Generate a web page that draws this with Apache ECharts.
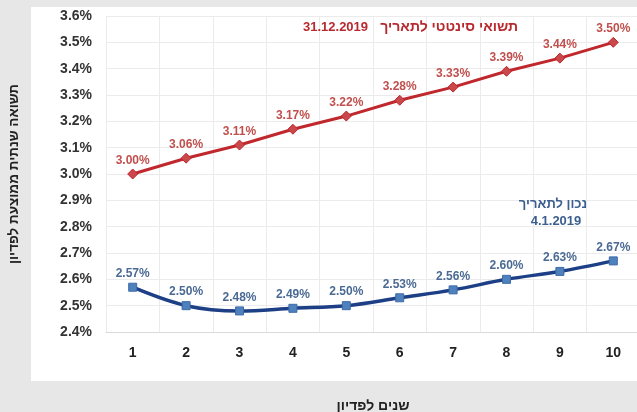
<!DOCTYPE html>
<html><head><meta charset="utf-8">
<script src="https://cdn.jsdelivr.net/npm/echarts@6/dist/echarts.min.js"></script>
<style>html,body{margin:0;padding:0;background:#e7e7e7;}#c{width:637px;height:412px;}</style>
</head><body><div id="c"></div>
<script>
var categories = ['1','2','3','4','5','6','7','8','9','10'];
var syntheticYield = [3.00,3.06,3.11,3.17,3.22,3.28,3.33,3.39,3.44,3.50];
var currentYield = [2.57,2.50,2.48,2.49,2.50,2.53,2.56,2.60,2.63,2.67];
var yMin = 2.4, yMax = 3.6, yStep = 0.1;
var redDate = '31.12.2019';
var redText = 'תשואי סינטטי לתאריך';
var blueLabel1 = 'נכון לתאריך';
var blueLabel2 = '4.1.2019';
var yTitle = 'תשואה שנתית ממוצעת לפדיון';
var xTitle = 'שנים לפדיון';

var chart = echarts.init(document.getElementById('c'));
var font = 'Liberation Sans, Arial, sans-serif';
chart.setOption({
  backgroundColor: '#e7e7e7',
  animation: false,
  textStyle: {fontFamily: font},
  graphic: [
    {type:'rect', z:-10, silent:true, shape:{x:31,y:7,width:606,height:374}, style:{fill:'#ffffff'}},
    {type:'text', z:10, x:303, y:27, style:{text: redDate, fill:'#b8292e', font:'bold 13px '+font, textAlign:'left', textVerticalAlign:'middle'}},
    {type:'text', z:10, x:518, y:27, style:{text: redText, fill:'#b8292e', font:'bold 14px '+font, textAlign:'right', textVerticalAlign:'middle'}},
    {type:'text', z:10, x:553, y:204, style:{text: blueLabel1, fill:'#3b5f8e', font:'bold 13px '+font, textAlign:'center', textVerticalAlign:'middle'}},
    {type:'text', z:10, x:556, y:221, style:{text: blueLabel2, fill:'#3b5f8e', font:'bold 13px '+font, textAlign:'center', textVerticalAlign:'middle'}}
  ],
  grid: {left:106, top:16, width:534, height:316, containLabel:false, outerBoundsMode:'none'},
  xAxis: {
    type:'category', data: categories, boundaryGap:true,
    name: xTitle, nameLocation:'middle', nameGap:67,
    nameTextStyle:{fontWeight:'bold', fontSize:14, color:'#222'},
    axisLine:{lineStyle:{color:'#d9d9d9'}},
    axisTick:{show:false},
    axisLabel:{fontWeight:'bold', fontSize:14, color:'#222', margin:14},
    splitLine:{show:true, lineStyle:{color:'#ebebeb'}}
  },
  yAxis: {
    type:'value', min:yMin, max:yMax, interval:yStep,
    name: yTitle, nameLocation:'middle', nameGap:85,
    nameTextStyle:{fontWeight:'bold', fontSize:13.5, color:'#222'},
    axisLine:{show:false}, axisTick:{show:false},
    axisLabel:{fontWeight:'bold', fontSize:14, color:'#333', margin:14,
      formatter:function(v){return v.toFixed(1)+'%';}},
    splitLine:{lineStyle:{color:'#ebebeb'}}
  },
  series: [
    {type:'line', data: syntheticYield, symbol:'diamond', symbolSize:10,
     lineStyle:{color:'#c0282d', width:3},
     itemStyle:{color:'#c9484b', borderColor:'#c0282d', borderWidth:1},
     label:{show:true, position:'top', distance:2, color:'#c0504d', fontSize:12, fontWeight:'bold',
       formatter:function(p){return p.value.toFixed(2)+'%';}}},
    {type:'line', data: currentYield, symbol:'rect', symbolSize:8, smooth:0.35,
     lineStyle:{color:'#1c3f86', width:3.5},
     itemStyle:{color:'#4f81bd', borderColor:'#3e6aa8', borderWidth:1},
     label:{show:true, position:'top', distance:3, color:'#4a6a94', fontSize:12, fontWeight:'bold',
       formatter:function(p){return p.value.toFixed(2)+'%';}}}
  ]
});
</script></body></html>
